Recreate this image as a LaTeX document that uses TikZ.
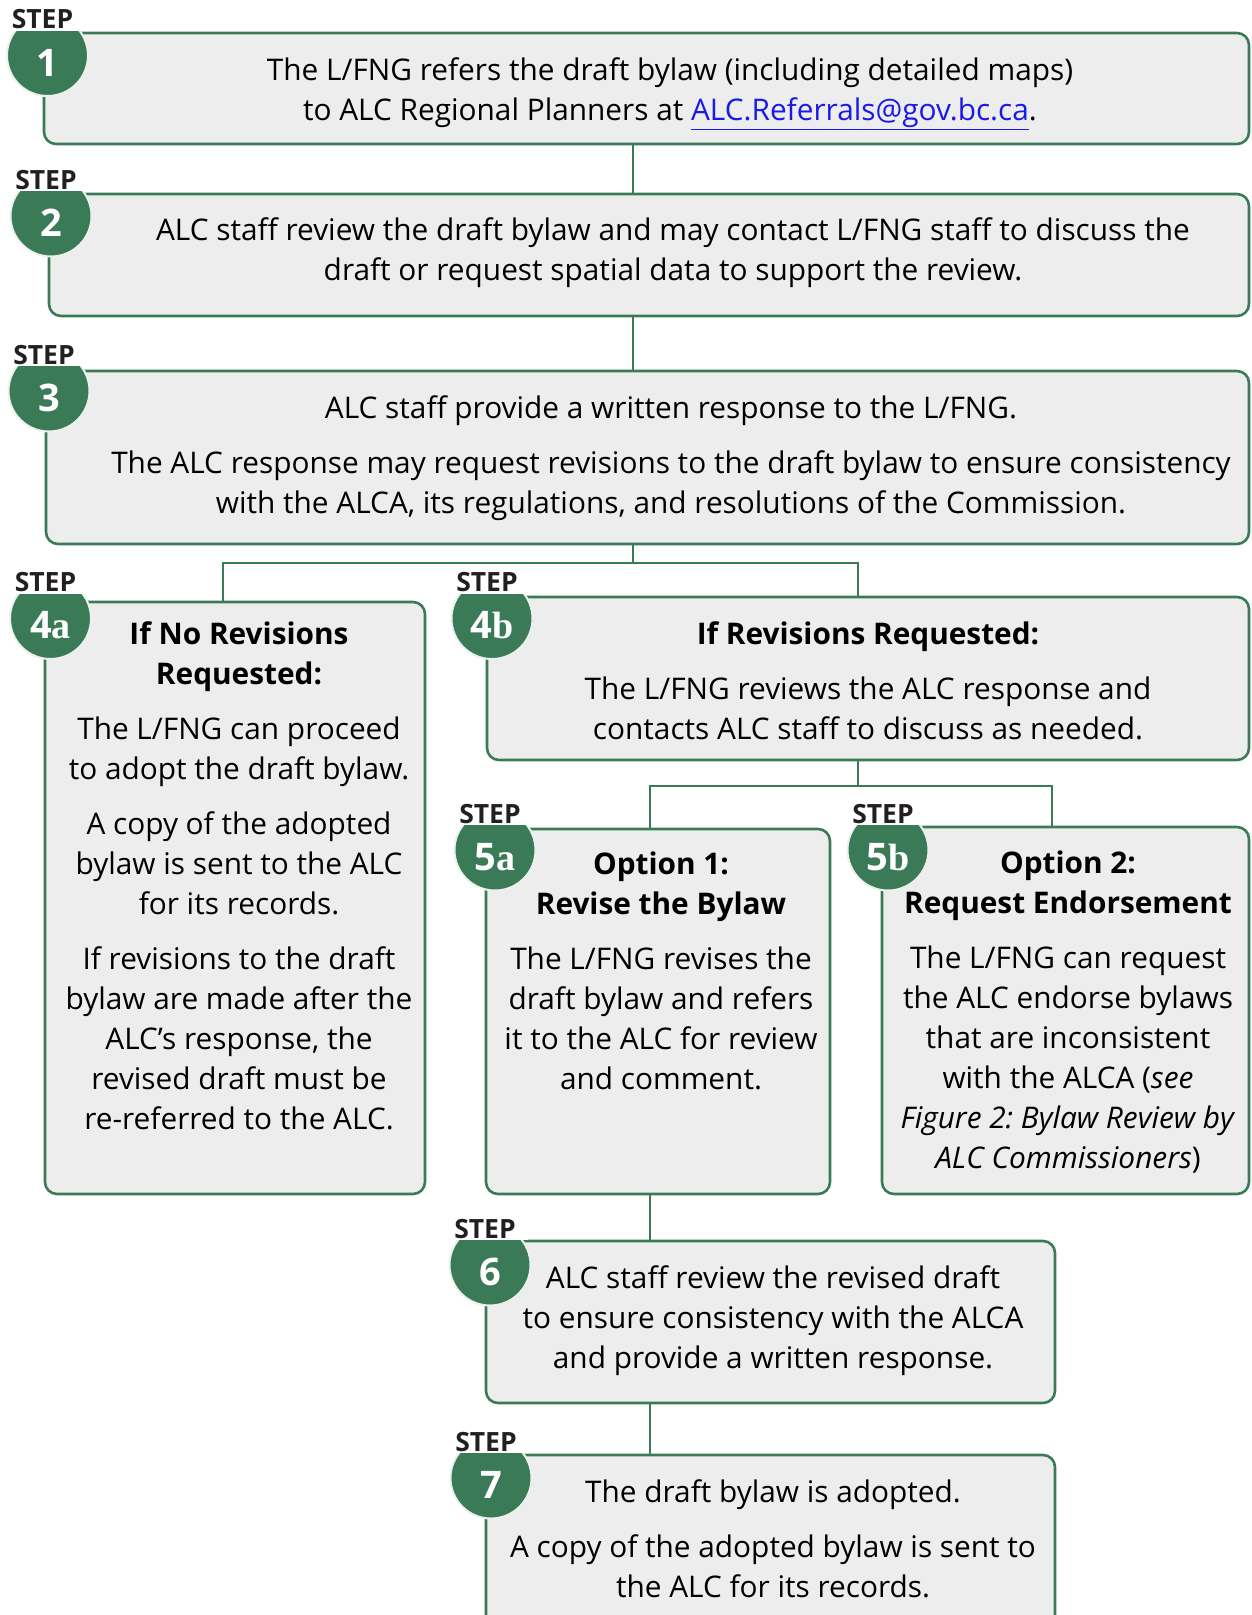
\documentclass[tikz,border=0pt]{standalone}
\usepackage{fontspec}
\setmainfont{Open Sans}
\newfontfamily\badgeletter{Liberation Serif}
\usetikzlibrary{positioning}
\definecolor{alcgreen}{HTML}{3B7A57}
\definecolor{boxgray}{HTML}{EDEDED}
\definecolor{steptext}{HTML}{231F20}
\definecolor{linkblue}{HTML}{1A1AE8}
\frenchspacing

\begin{document}
\begin{tikzpicture}[x=1pt,y=-1pt,
  stepbox/.style={draw=alcgreen,fill=boxgray,line width=2.6pt,rounded corners=12pt,inner sep=0pt},
  badge/.style={circle,fill=alcgreen,draw=white!90!alcgreen,line width=2pt,minimum size=81pt,inner sep=0pt},
  badgenum/.style={text=white,inner sep=0pt,font=\fontsize{38}{38}\selectfont\bfseries},
  steplbl/.style={fill=white,text=steptext,inner xsep=12pt,inner ysep=2pt,font=\fontsize{26.5}{26.5}\selectfont\bfseries},
  txt/.style={align=center,inner sep=0pt,anchor=north,font=\fontsize{29.8}{40}\selectfont},
  link/.style={draw=alcgreen,line width=2.6pt}]
  \useasboundingbox (0,0) rectangle (1251,1615);
  \clip (0,0) rectangle (1251,1615);

  % boxes
  \node[stepbox,minimum width=1205,minimum height=111] (b1) at (646.5,88.5) {};
  \node[stepbox,minimum width=1200,minimum height=122] (b2) at (649,255) {};
  \node[stepbox,minimum width=1203,minimum height=173] (b3) at (647.5,457.5) {};
  \node[stepbox,minimum width=380,minimum height=592] (b4a) at (235,898) {};
  \node[stepbox,minimum width=762,minimum height=163] (b4b) at (868,678.5) {};
  \node[stepbox,minimum width=344,minimum height=365] (b5a) at (658,1011.5) {};
  \node[stepbox,minimum width=367,minimum height=367] (b5b) at (1065.5,1010.5) {};
  \node[stepbox,minimum width=569,minimum height=162] (b6) at (770.5,1322) {};
  \node[stepbox,minimum width=569,minimum height=185] (b7) at (770.5,1547.5) {};

  % connectors
  \coordinate (j1) at (633,0);
  \coordinate (sp3) at (633,563);
  \coordinate (sp4a) at (223,563);
  \coordinate (sp4b) at (858,563);
  \coordinate (sp5) at (858,786);
  \coordinate (sp5a) at (650,786);
  \coordinate (sp5b) at (1052,786);
  \coordinate (j6) at (650,0);
  \draw[link] (b1.south -| j1) -- (b2.north -| j1);
  \draw[link] (b2.south -| j1) -- (b3.north -| j1);
  \draw[link] (b3.south -| sp3) -- (sp3);
  \draw[link] (b4a.north -| sp4a) -- (sp4a) -- (sp4b) -- (b4b.north -| sp4b);
  \draw[link] (b4b.south -| sp5) -- (sp5);
  \draw[link] (b5a.north -| sp5a) -- (sp5a) -- (sp5b) -- (b5b.north -| sp5b);
  \draw[link] (b5a.south -| j6) -- (b6.north -| j6);
  \draw[link] (b6.south -| j6) -- (b7.north -| j6);

  % texts
  \node[txt] (t1) at (670,52) {\strut The L/FNG refers the draft bylaw (including detailed maps)\\
    to ALC Regional Planners at {\color{linkblue}\underline{ALC.Referrals@gov.bc.ca}}.};
  \node[txt] (t2) at (673,212) {\strut ALC staff review the draft bylaw and may contact L/FNG staff to discuss the\\
    draft or request spatial data to support the review.};
  \node[txt] (t3) at (671,390) {\strut ALC staff provide a written response to the L/FNG.\\[15pt]
    The ALC response may request revisions to the draft bylaw to ensure consistency\\
    with the ALCA, its regulations, and resolutions of the Commission.};
  \node[txt] (t4a) at (239,616) {\strut\textbf{If No Revisions}\\ \textbf{Requested:}\\[15pt]
    The L/FNG can proceed\\ to adopt the draft bylaw.\\[15pt]
    A copy of the adopted\\ bylaw is sent to the ALC\\ for its records.\\[15pt]
    If revisions to the draft\\ bylaw are made after the\\ ALC’s response, the\\
    revised draft must be\\ re-referred to the ALC.};
  \node[txt] (t4b) at (868,616) {\strut\textbf{If Revisions Requested:}\\[15pt]
    The L/FNG reviews the ALC response and\\ contacts ALC staff to discuss as needed.};
  \node[txt] (t5a) at (661,846) {\strut\textbf{Option 1:}\\ \textbf{Revise the Bylaw}\\[15pt]
    The L/FNG revises the\\ draft bylaw and refers\\ it to the ALC for review\\ and comment.};
  \node[txt] (t5b) at (1068,845) {\strut\textbf{Option 2:}\\ \textbf{Request Endorsement}\\[15pt]
    The L/FNG can request\\ the ALC endorse bylaws\\ that are inconsistent\\
    with the ALCA (\textit{see}\\ \textit{Figure 2: Bylaw Review by}\\ \textit{ALC Commissioners})};
  \node[txt] (t6) at (773,1260) {\strut ALC staff review the revised draft\\
    to ensure consistency with the ALCA\\ and provide a written response.};
  \node[txt] (t7) at (773,1474) {\strut The draft bylaw is adopted.\\[15pt]
    A copy of the adopted bylaw is sent to\\ the ALC for its records.};

  % step badges
  \node[badge] (n1) at (47.5,55.5) {};
  \node[badge] (n2) at (51,216) {};
  \node[badge] (n3) at (49,391) {};
  \node[badge] (n4a) at (50.5,618.5) {};
  \node[badge] (n4b) at (492,618.5) {};
  \node[badge] (n5a) at (495,850) {};
  \node[badge] (n5b) at (888,850) {};
  \node[badge] (n6) at (490,1265) {};
  \node[badge] (n7) at (491,1478) {};

  \node[badgenum,yshift=-7pt] (d1) at (n1) {1};
  \node[badgenum,yshift=-7pt] (d2) at (n2) {2};
  \node[badgenum,yshift=-7pt] (d3) at (n3) {3};
  \node[badgenum,yshift=-7pt] (d4a) at (n4a) {4\badgeletter a};
  \node[badgenum,yshift=-7pt] (d4b) at (n4b) {4\badgeletter b};
  \node[badgenum,yshift=-7pt] (d5a) at (n5a) {5\badgeletter a};
  \node[badgenum,yshift=-7pt] (d5b) at (n5b) {5\badgeletter b};
  \node[badgenum,yshift=-7pt] (d6) at (n6) {6};
  \node[badgenum,yshift=-7pt] (d7) at (n7) {7};

  \node[steplbl,above=-17pt of n1,xshift=-5pt] (s1) {STEP};
  \node[steplbl,above=-17pt of n2,xshift=-5pt] (s2) {STEP};
  \node[steplbl,above=-17pt of n3,xshift=-5pt] (s3) {STEP};
  \node[steplbl,above=-17pt of n4a,xshift=-5pt] (s4a) {STEP};
  \node[steplbl,above=-17pt of n4b,xshift=-5pt] (s4b) {STEP};
  \node[steplbl,above=-17pt of n5a,xshift=-5pt] (s5a) {STEP};
  \node[steplbl,above=-17pt of n5b,xshift=-5pt] (s5b) {STEP};
  \node[steplbl,above=-17pt of n6,xshift=-5pt] (s6) {STEP};
  \node[steplbl,above=-17pt of n7,xshift=-5pt] (s7) {STEP};
\end{tikzpicture}
\end{document}
